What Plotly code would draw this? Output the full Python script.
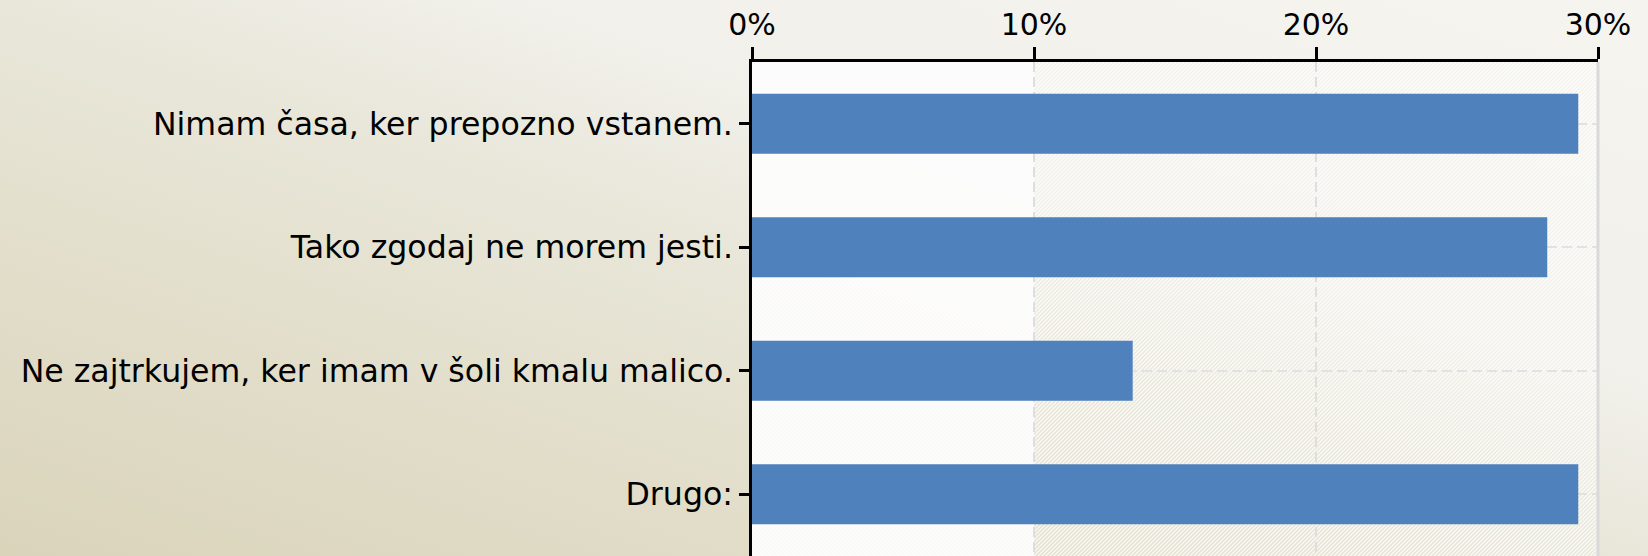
import base64
import plotly.graph_objects as go

# ---- data ----
categories = [
    "Nimam časa, ker prepozno vstanem.",
    "Tako zgodaj ne morem jesti.",
    "Ne zajtrkujem, ker imam v šoli kmalu malico.",
    "Drugo:",
]
values = [29.3, 28.2, 13.5, 29.3]
tick_vals = [0, 10, 20, 30]
tick_text = ["0%", "10%", "20%", "30%"]

# ---- geometry ----
W, H = 1648, 556
ML, MR, MT, MB = 752, 50, 62, 0
PW = W - ML - MR
PH = H - MT - MB


def svg_uri(svg):
    return "data:image/svg+xml;base64," + base64.b64encode(svg.encode("utf-8")).decode("ascii")


bg_svg = f'''<svg xmlns="http://www.w3.org/2000/svg" width="{W}" height="{H}" viewBox="0 0 {W} {H}" preserveAspectRatio="none">
<defs><linearGradient id="g" x1="1" y1="0" x2="0" y2="1">
<stop offset="0" stop-color="#f5f4ef"/>
<stop offset="0.35" stop-color="#f1f0ea"/>
<stop offset="0.5" stop-color="#e9e7da"/>
<stop offset="0.75" stop-color="#e1ddc9"/>
<stop offset="1" stop-color="#dad4bb"/>
</linearGradient></defs>
<rect width="{W}" height="{H}" fill="url(#g)"/></svg>'''

hatch_svg = f'''<svg xmlns="http://www.w3.org/2000/svg" width="{PW}" height="{PH}" viewBox="0 0 {PW} {PH}" preserveAspectRatio="none">
<defs><pattern id="p" width="4" height="4" patternUnits="userSpaceOnUse">
<path d="M-1,1 l2,-2 M0,4 l4,-4 M3,5 l2,-2" stroke="#ffffff" stroke-opacity="0.8" stroke-width="1.3"/>
</pattern></defs>
<rect width="{PW}" height="{PH}" fill="url(#p)"/></svg>'''

FONT = "DejaVu Sans"

fig = go.Figure()
fig.add_trace(go.Bar(
    x=values,
    y=categories,
    orientation="h",
    marker=dict(color="#4f81bd", line=dict(width=0)),
    width=0.485,
    showlegend=False,
    hovertemplate="%{y}: %{x}%<extra></extra>",
))

fig.update_layout(
    width=W,
    height=H,
    margin=dict(l=ML, r=MR, t=MT, b=MB, pad=0),
    paper_bgcolor="#ece9dd",
    plot_bgcolor="rgba(0,0,0,0)",
    font=dict(family=FONT, color="#000000"),
    images=[
        dict(source=svg_uri(bg_svg), xref="paper", yref="paper",
             x=-ML / PW, y=1 + MT / PH, sizex=W / PW, sizey=H / PH,
             xanchor="left", yanchor="top", sizing="stretch", layer="below"),
        dict(source=svg_uri(hatch_svg), xref="x domain", yref="y domain",
             x=0, y=1, sizex=1, sizey=1,
             xanchor="left", yanchor="top", sizing="stretch", layer="below"),
    ],
    shapes=[
        dict(type="rect", xref="x", yref="y domain",
             x0=tick_vals[0], x1=tick_vals[1], y0=0, y1=1,
             fillcolor="rgba(251,251,251,0.92)", line=dict(width=0), layer="below"),
        dict(type="line", xref="x domain", yref="y domain",
             x0=1, x1=1, y0=0, y1=1,
             line=dict(color="#d9d9d9", width=3), layer="above"),
    ],
    xaxis=dict(
        side="top",
        range=[tick_vals[0], tick_vals[-1]],
        tickvals=tick_vals,
        ticktext=tick_text,
        ticks="outside",
        ticklen=12,
        tickwidth=2.5,
        tickcolor="#000000",
        showline=True,
        linecolor="#000000",
        linewidth=2.5,
        showgrid=True,
        gridcolor="#dedede",
        gridwidth=2,
        griddash="10px,5px",
        zeroline=False,
        tickfont=dict(family=FONT, size=30, color="#000000"),
        fixedrange=True,
    ),
    yaxis=dict(
        type="category",
        categoryorder="array",
        categoryarray=categories,
        autorange="reversed",
        ticks="outside",
        ticklen=10,
        tickwidth=2.5,
        tickcolor="#000000",
        showline=True,
        linecolor="#000000",
        linewidth=2.5,
        showgrid=True,
        gridcolor="#e2e2e2",
        gridwidth=2,
        griddash="10px,5px",
        zeroline=False,
        tickfont=dict(family=FONT, size=31.6, color="#000000"),
        fixedrange=True,
    ),
    bargap=0.5,
)

fig.write_html(
    "out.html",
    config={"displayModeBar": False},
    post_script="document.body.style.margin='0';document.body.style.background='#ece9dd';document.body.style.overflow='hidden';",
)
